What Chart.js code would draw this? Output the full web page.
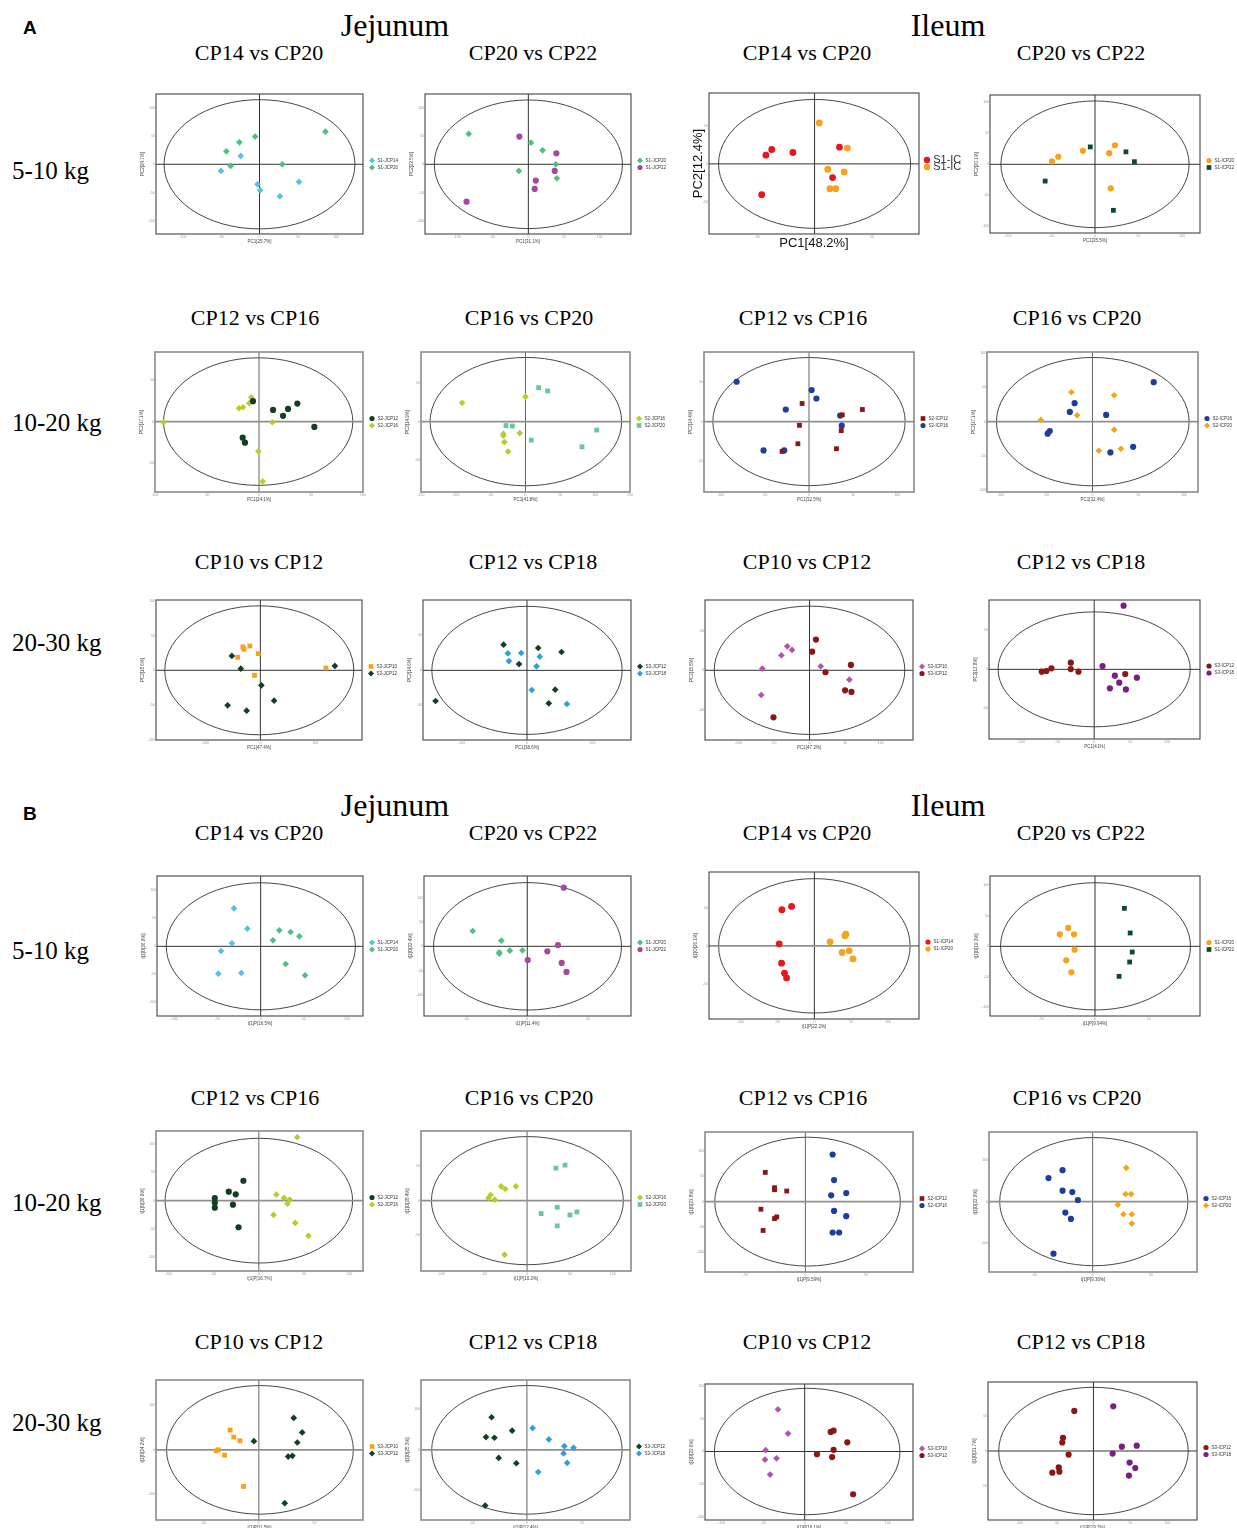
<!DOCTYPE html>
<html><head><meta charset="utf-8">
<script src="https://cdn.jsdelivr.net/npm/chart.js@4.4.0/dist/chart.umd.min.js"></script>
<style>
html,body{margin:0;padding:0;background:#fff;}
body{width:1237px;height:1528px;position:relative;overflow:hidden;font-family:"Liberation Serif","Times New Roman",serif;}
.t{position:absolute;white-space:nowrap;line-height:1;color:#000;}
canvas{position:absolute;}
</style></head><body>
<script>
// ---------------- DATA ----------------
const SECTIONS = ['A','B'];
const TISSUES = ['Jejunum','Ileum'];
const WEIGHTS = ['5-10 kg','10-20 kg','20-30 kg'];
const COMPARISONS = [
  ['CP14 vs CP20','CP20 vs CP22','CP14 vs CP20','CP20 vs CP22'],
  ['CP12 vs CP16','CP16 vs CP20','CP12 vs CP16','CP16 vs CP20'],
  ['CP10 vs CP12','CP12 vs CP18','CP10 vs CP12','CP12 vs CP18']
];
const PANELS = ['A11','A12','A13','A14','A21','A22','A23','A24','A31','A32','A33','A34',
                'B11','B12','B13','B14','B21','B22','B23','B24','B31','B32','B33','B34'];

const LEGEND_LABELS = [
  ['S1-JCP14','S1-JCP20'],['S1-JCP20','S1-JCP22'],['S1-IC','S1-IC'],['S1-ICP20','S1-ICP22'],
  ['S2-JCP12','S2-JCP16'],['S2-JCP16','S2-JCP20'],['S2-ICP12','S2-ICP16'],['S2-ICP16','S2-ICP20'],
  ['S3-JCP10','S3-JCP12'],['S3-JCP12','S3-JCP18'],['S3-ICP10','S3-ICP12'],['S3-ICP12','S3-ICP18'],
  ['S1-JCP14','S1-JCP20'],['S1-JCP20','S1-JCP22'],['S1-ICP14','S1-ICP20'],['S1-ICP20','S1-ICP22'],
  ['S2-JCP12','S2-JCP16'],['S2-JCP16','S2-JCP20'],['S2-ICP12','S2-ICP16'],['S2-ICP16','S2-ICP20'],
  ['S3-JCP10','S3-JCP12'],['S3-JCP12','S3-JCP18'],['S3-ICP10','S3-ICP12'],['S3-ICP12','S3-ICP18']
];
const X_TITLES = ['PC1[25.7%]','PC1[31.1%]','PC1[48.2%]','PC1[35.5%]','PC1[24.1%]','PC1[41.8%]','PC1[32.5%]','PC1[32.4%]',
  'PC1[47.4%]','PC1[38.6%]','PC1[47.3%]','PC1[41%]',
  't[1]P[16.5%]','t[1]P[11.4%]','t[1]P[22.2%]','t[1]P[9.94%]','t[1]P[16.7%]','t[1]P[10.2%]','t[1]P[9.59%]','t[1]P[9.36%]',
  't[1]P[11.5%]','t[1]P[12.4%]','t[1]P[16.1%]','t[1]P[19.7%]'];
const Y_TITLES = ['PC2[24.7%]','PC2[22.5%]','PC2[12.4%]','PC2[20.1%]','PC2[17.1%]','PC2[14.9%]','PC2[14.4%]','PC2[17.1%]',
  'PC2[18.6%]','PC2[14.6%]','PC2[15.8%]','PC2[12.8%]',
  't[1]O[26.9%]','t[1]O[22.4%]','t[1]O[26.1%]','t[1]O[19.3%]','t[1]O[26.9%]','t[1]O[28.4%]','t[1]O[23.8%]','t[1]O[22.9%]',
  't[1]O[24.2%]','t[1]O[25.3%]','t[1]O[22.6%]','t[1]O[21.7%]'];

const X_RANGES = [[-135,135],[-145,144],[-92,91],[-120.5,120.5],[-100,100],[-150,150],[-119,119],[-115,115],
  [-190,185],[-159,159],[-147,145.5],[-144.5,145.4],
  [-120,118.5],[-84.8,85.2],[-143,142],[-97.6,97.6],[-114,115.5],[-123.8,121.3],[-83.3,89.3],[-89.2,89.8],
  [-92.5,93.7],[-96.8,94.2],[-120,130.4],[-143,140.4]];
const Y_RANGES = [[-123,124],[-123,124],[-93,94],[-110.6,111.6],[-85,84],[-91,90],[-89,88],[-103,102],
  [-100.5,101.4],[-99.5,100.5],[-70.6,71.2],[-89.7,89.3],
  [-124.4,125.6],[-143.2,144.5],[-96.9,97.8],[-114.2,115.3],[-124.7,123.5],[-101,100],[-139.5,138],[-169,167.3],
  [-157.1,156.4],[-173.4,172.6],[-104,102.5],[-98.1,98.1]];
// confidence ellipse: [centre x, semi-axis x, semi-axis y]
const ELLIPSES = [[0,124.5,114],[0,132,113.5],[0,83.7,85.5],[0,108,102],[-0.8,91,77],[0.5,137.5,83],[0,109,81],[0.3,105,94],
  [-2,172,93],[0,145.5,91.5],[0,134,65],[0,132,74],
  [0.2,109.5,113.5],[0.2,77.2,131],[0,130,89],[0.5,88.3,104.3],[0,104,110.6],[0.4,112,92],[1.8,77,127.7],[1,81,154],
  [1,84,144],[0,87,159],[3,111.7,96],[0,128.5,90.6]];
const T5 = [-100,-50,0,50,100], T3 = [-50,0,50], T3H = [-100,0,100], T7 = [-150,-100,-50,0,50,100,150], T4 = [-40,0,40];
const X_TICKS = [T5,T5,T3,T5,T5,T7,T5,T5,T3H,T3H,T5,T5, T5,T3,T5,T3,T5,T5,T3,T3,T3,T3,T5,T5];
const Y_TICKS = [T5,T5,T3,T5,T3,T3,T3,T5,T5,T3,T4,T3, T5,T5,T3,T5,T5,T3,T5,T3H,T3H,T3H,T5,T3];

// scores [x, y]
const A11_g1 = [[-24.5,14.7],[-50.2,-11.8],[-2.6,-35.3],[0.9,-45.9],[51.5,-31.2],[26.6,-56.5]];
const A11_g2 = [[86.0,57.6],[-5.7,48.8],[-26.2,38.8],[-43.2,22.9],[-37.6,-2.9],[29.7,0]];
const A12_g1 = [[-83.7,53.5],[3.7,38.2],[20,24.7],[38.5,0],[-13.3,-11.8],[40,-24.7]];
const A12_g2 = [[-12.6,48.8],[39.3,19.4],[37,-11.8],[10.4,-28.8],[8.9,-43.5],[-86.7,-65.9]];
const A13_g1 = [[-42.4,11.6],[-37.3,19.1],[-18.9,15.1],[21.7,22.2],[15.7,-18.2],[-46.1,-40.9]];
const A13_g2 = [[4.1,54.2],[28.6,20.9],[11.5,-7.1],[25.8,-10.7],[13.4,-32.9],[18.4,-32.9]];
const A14_g1 = [[-49.4,4.8],[-42.2,12.2],[-13.9,21.7],[22.9,30.7],[16.3,18],[18.1,-38.6]];
const A14_g2 = [[-5.4,28],[35.5,20.1],[45.2,4.2],[-57.2,-27],[21.1,-74.1]];
const A21_g1 = [[-5.8,24.6],[13.5,14.1],[23.1,6.9],[27.9,15.3],[36.9,21.8],[53.2,-6.5],[-15.7,-19.4],[-13.5,-25.4]];
const A21_g2 = [[-92,-0.8],[-19.2,16.1],[-15.4,17.3],[-9.3,22.2],[-7.4,29],[12.8,-0.8],[-0.6,-35.9],[3.5,-72.2]];
const A22_g1 = [[-90.9,24.3],[0,32.2],[-8.3,-14.8],[-31.8,-15.7],[-31.8,-18.3],[-30.3,-26.5],[-25,-38.7]];
const A22_g2 = [[18.9,43.9],[31.8,39.6],[-28,-5.2],[-18.9,-5.7],[8.3,-23.9],[102.3,-10.9],[81.1,-32.6]];
const A23_g1 = [[-7.8,22.9],[60.5,15.3],[37.7,8.5],[-10.8,-4.7],[36.5,-11.4],[-12.6,-28],[31.1,-34.3],[-30.5,-37.7]];
const A23_g2 = [[-82,50.4],[3,39.8],[8.4,29.2],[-26.3,15.3],[35.3,7.6],[37.1,-5.1],[-51.5,-36.4],[-28.1,-36.4]];
const A24_g1 = [[66.7,57.8],[-19.5,27],[-24.7,14.2],[14.9,9.8],[-48.9,-17.6],[-46.6,-13.7],[44.3,-36.8],[19.5,-45.1]];
const A24_g2 = [[-23,43.1],[23.6,38.7],[-16.7,9.3],[-56.3,2.5],[23.6,-11.8],[6.9,-42.6],[31,-39.7]];
const A31_g1 = [[-31.7,33.7],[-29.8,30.3],[-19.2,35.1],[-3.8,24],[-41.3,18.8],[-10.6,-7.2],[119.2,3.4]];
const A31_g2 = [[-51.9,20.7],[-35.6,2.4],[135.6,6.3],[1.9,-21.6],[25,-43.8],[-59.6,-50.5],[-25,-58.2]];
const A32_g1 = [[-35.8,36.7],[17.1,31.9],[52.8,26.2],[-12.2,9],[-139.8,-43.8],[43.1,-27.6],[33.3,-47.1]];
const A32_g2 = [[-29.3,24.3],[-8.9,24.8],[19.5,19.5],[-27.6,13.3],[14.6,5.7],[7.3,-28.1],[61,-48.1]];
const A33_g1 = [[-31.3,24.3],[-24.6,20.6],[-39.6,15.2],[-66.4,1.7],[15.7,4.1],[56,-9.5],[-67.9,-25]];
const A33_g2 = [[9,31.1],[3.7,18.9],[58.2,5.4],[22.4,-2],[50,-20.3],[59,-21.9],[-50.7,-47.6]];
const A34_g1 = [[-72,-3],[-65.6,-2.1],[-58.7,1.3],[-32.1,8.6],[-32.1,0.4],[-21.6,-3],[42.7,-6]];
const A34_g2 = [[40.4,82],[11.5,4.3],[28.4,-8.2],[34.4,-17.2],[21.6,-24.5],[43.6,-25.8],[58.7,-10.7]];
const B11_g1 = [[-30.9,67.9],[-15.4,31.5],[-33.2,5.4],[-45.9,-8.3],[-49,-48.8],[-22.4,-47.6]];
const B11_g2 = [[14.3,10.7],[21.6,28.6],[34.7,25.6],[44.8,17.9],[29,-31.5],[51.4,-51.8]];
const B12_g1 = [[-44.8,31.5],[-21.3,11.6],[-23,-12.3],[-23,-15.1],[-14.3,-8.9],[-3.9,-8.2]];
const B12_g2 = [[30,120.5],[25.2,2.7],[16.5,-10.3],[0.4,-28.1],[28.3,-34.2],[32.2,-52.7]];
const B13_g1 = [[-44.1,47.8],[-30.9,52.2],[-47.7,2.7],[-44.5,-23],[-40.5,-36.3],[-37.7,-42.5]];
const B13_g2 = [[21.4,5.3],[41.4,13.3],[42.7,15.5],[37.7,-8.8],[47.3,-6.6],[52.3,-17.3]];
const B14_g1 = [[-24.9,30.1],[-32.7,19.7],[-19.5,19.7],[-19,-5.5],[-26.8,-23],[-22,-42.6]];
const B14_g2 = [[27.3,62.3],[32.7,21.9],[34.6,-9.3],[32.2,-25.7],[22.4,-49.2]];
const B21_g1 = [[-17.1,35.3],[-33.3,15.9],[-25.6,11.2],[-48.8,4.7],[-48.8,-3.5],[-48.8,-12.4],[-28.7,-7.1],[-22.5,-47.1]];
const B21_g2 = [[42.6,112.4],[19.4,10.6],[27.9,4.7],[34.1,1.8],[31.8,-5.3],[16.3,-25.3],[40.3,-39.4],[55,-62.4]];
const B22_g1 = [[-45.1,3.8],[-42.6,8.1],[-37.7,1.4],[-30.3,20.5],[-25.4,16.7],[-13.1,20.5],[-26.2,-77.6]];
const B22_g2 = [[33.6,46.7],[44.3,51],[35.2,-9.5],[16.4,-18.6],[50,-20.5],[58.2,-16.2],[35.2,-36.2]];
const B23_g1 = [[-33.3,57.9],[-25.6,27.6],[-25.6,23.7],[-15.5,21],[-36.9,-15.1],[-23.8,-30.3],[-25.6,-33.6],[-35.1,-57.2]];
const B23_g2 = [[22.6,93.4],[23.8,42.8],[33.9,17.1],[21.4,12.5],[23.8,-18.4],[33.9,-28.9],[22.6,-61.2],[28,-61.2]];
const B24_g1 = [[-25.9,75.7],[-38,56.6],[-25.9,26.3],[-17.5,23.1],[-12.7,4],[-23.5,-26.3],[-18.7,-41.4],[-33.7,-125.1]];
const B24_g2 = [[28.9,81.3],[28.3,18.3],[33.1,18.3],[21.7,-7.2],[26.5,-30.3],[33.7,-30.3],[33.7,-52.6]];
const B31_g1 = [[-25.8,44.4],[-22.6,28.6],[-17,20.3],[-36.5,0],[-38.4,-2.3],[-30.8,-12],[-13.8,-82]];
const B31_g2 = [[31.4,71.4],[39,39.1],[-4.4,19.5],[34.6,16.5],[30.2,-13.5],[26.4,-15],[23.3,-119.5]];
const B32_g1 = [[-32.3,80.5],[-13.5,47.3],[-37.4,31.5],[-29.7,29.9],[-25.8,-19.9],[-9.7,-33.2],[-38.1,-137.8]];
const B32_g2 = [[5.2,53.9],[20,25.7],[34.2,9.1],[42.6,5],[33.5,-9.1],[36.8,-32.4],[10.3,-54.8]];
const B33_g1 = [[-32.2,63.9],[-20,27.2],[-47,2],[-47.8,-12.4],[-33.9,-10.4],[-41.7,-35.1]];
const B33_g2 = [[31.3,29.7],[34.8,31.7],[51.3,13.9],[34.8,2.5],[14.8,-4],[33,-8.4],[58.3,-64.9]];
const B34_g1 = [[-26,57],[-41.3,18.7],[-42.3,12.1],[-33.7,-5.1],[-47.1,-23.4],[-46.2,-29.4],[-55.8,-30.8]];
const B34_g2 = [[26.9,63.6],[38.5,6.1],[58.7,7.5],[26,-3.7],[49,-16.4],[56.7,-24.3],[48.1,-35]];

const SCORES = {
  A11:[A11_g1,A11_g2],A12:[A12_g1,A12_g2],A13:[A13_g1,A13_g2],A14:[A14_g1,A14_g2],
  A21:[A21_g1,A21_g2],A22:[A22_g1,A22_g2],A23:[A23_g1,A23_g2],A24:[A24_g1,A24_g2],
  A31:[A31_g1,A31_g2],A32:[A32_g1,A32_g2],A33:[A33_g1,A33_g2],A34:[A34_g1,A34_g2],
  B11:[B11_g1,B11_g2],B12:[B12_g1,B12_g2],B13:[B13_g1,B13_g2],B14:[B14_g1,B14_g2],
  B21:[B21_g1,B21_g2],B22:[B22_g1,B22_g2],B23:[B23_g1,B23_g2],B24:[B24_g1,B24_g2],
  B31:[B31_g1,B31_g2],B32:[B32_g1,B32_g2],B33:[B33_g1,B33_g2],B34:[B34_g1,B34_g2]
};

// ---------------- STYLE / LAYOUT ----------------
const C = {cyan:'#56C3DC', green:'#52BF82', magenta:'#A8479F', red:'#E8161D', orange:'#F5A21C',
  dkgreen:'#0F4A2A', dkgreen2:'#123F22', ygreen:'#B3CF2C', mint:'#66C89C', dkred:'#8A1616',
  navy:'#1E3E99', ltblue:'#2E9FE0', pink:'#B452B0', purple:'#7A1E83'};
const PAIR_STYLE = {
  1:[[C.cyan,'rectRot'],[C.green,'rectRot']], 2:[[C.green,'rectRot'],[C.magenta,'circle']],
  3:[[C.red,'circle'],[C.orange,'circle']], 4:[[C.orange,'circle'],[C.dkgreen,'rect']],
  5:[[C.dkgreen2,'circle'],[C.ygreen,'rectRot']], 6:[[C.ygreen,'rectRot'],[C.mint,'rect']],
  7:[[C.dkred,'rect'],[C.navy,'circle']], 8:[[C.navy,'circle'],[C.orange,'rectRot']],
  9:[[C.orange,'rect'],[C.dkgreen2,'rectRot']], 10:[[C.dkgreen2,'rectRot'],[C.ltblue,'rectRot']],
  11:[[C.pink,'rectRot'],[C.dkred,'circle']], 12:[[C.dkred,'circle'],[C.purple,'circle']]
};
// frame [left, top, right, bottom] in page pixels
const FRAMES = [
  [156,94,363,234],[425,94,631,234],[709,93,919,234],[990,95,1200,233],
  [155,352,363,492],[421,352,630,492],[704,352,914,492],[987,352,1198,492],
  [156,600,362,740],[423,600,631,740],[705,600,913,740],[989,600,1200,739],
  [157,876,363,1016],[424,876,631,1016],[709,872,919,1019],[990,876,1200,1016],
  [156,1131,363,1271],[421,1131,631,1271],[705,1132,913,1272],[989,1132,1197,1272],
  [156,1380,363,1520],[421,1380,630,1520],[705,1384,913,1520],[988,1382,1197,1520]
];

// ---------------- TEXT ----------------
function addText(txt, x, y, size, extra){
  const d = document.createElement('div');
  d.className = 't';
  d.textContent = txt;
  d.style.fontSize = size + 'px';
  d.style.left = x + 'px';
  d.style.top = (y - size/2) + 'px';
  if (extra && extra.center) d.style.transform = 'translateX(-50%)';
  if (extra && extra.font) d.style.fontFamily = extra.font;
  if (extra && extra.bold) d.style.fontWeight = 'bold';
  document.body.appendChild(d);
}
const SECTION_Y = [0, 780];
const LETTER_Y = [27, 813];
const COL_X = [[259,533,807,1081],[255,529,803,1077],[259,533,807,1081]];
const SUB_Y = [53,318,562];
const ROW_Y = [170,422,642];
SECTIONS.forEach((s,si)=>{
  const oy = SECTION_Y[si];
  addText(s, 23, LETTER_Y[si], 19, {font:'"Liberation Sans",Arial,sans-serif', bold:true});
  addText(TISSUES[0], 395, 25+oy, 32, {center:true});
  addText(TISSUES[1], 948, 25+oy, 32, {center:true});
  for (let r=0;r<3;r++){
    addText(WEIGHTS[r], 12, ROW_Y[r]+oy, 25);
    for (let c=0;c<4;c++) addText(COMPARISONS[r][c], COL_X[r][c], SUB_Y[r]+oy, 22, {center:true});
  }
});

// ---------------- CHARTS ----------------
function drawMarker(ctx, style, x, y, r){
  ctx.beginPath();
  if (style==='circle') ctx.arc(x,y,r,0,Math.PI*2);
  else if (style==='rect') ctx.rect(x-r*0.9,y-r*0.9,r*1.8,r*1.8);
  else { ctx.moveTo(x,y-r*1.15); ctx.lineTo(x+r*1.15,y); ctx.lineTo(x,y+r*1.15); ctx.lineTo(x-r*1.15,y); ctx.closePath(); }
  ctx.fill();
}
const pcaPlugin = {
  id:'pca',
  beforeDatasetsDraw(chart){
    const o = chart.options.plugins.pca, ctx = chart.ctx, a = chart.chartArea;
    const xs = chart.scales.x, ys = chart.scales.y;
    ctx.save();
    const cx = xs.getPixelForValue(o.ell[0]), cy = ys.getPixelForValue(0);
    const rx = Math.abs(xs.getPixelForValue(o.ell[0]+o.ell[1]) - cx);
    const ry = Math.abs(ys.getPixelForValue(o.ell[2]) - cy);
    ctx.beginPath(); ctx.ellipse(cx,cy,rx,ry,0,0,Math.PI*2);
    ctx.strokeStyle = '#333'; ctx.lineWidth = 0.9; ctx.stroke();
    const x0 = xs.getPixelForValue(0), y0 = ys.getPixelForValue(0);
    ctx.beginPath(); ctx.moveTo(x0,a.top); ctx.lineTo(x0,a.bottom);
    ctx.strokeStyle = o.vColor; ctx.lineWidth = o.vW; ctx.stroke();
    ctx.beginPath(); ctx.moveTo(a.left,y0); ctx.lineTo(a.right,y0);
    ctx.strokeStyle = o.hColor; ctx.lineWidth = o.hW; ctx.stroke();
    ctx.restore();
  },
  afterDraw(chart){
    const o = chart.options.plugins.pca, ctx = chart.ctx, a = chart.chartArea;
    ctx.save();
    ctx.strokeStyle = o.fColor; ctx.lineWidth = o.fW;
    ctx.strokeRect(a.left, a.top, a.right-a.left, a.bottom-a.top);
    const midY = (a.top + a.bottom)/2;
    chart.data.datasets.forEach((ds,i)=>{
      const y = midY + (i - 0.5) * o.legGap;
      ctx.fillStyle = ds.backgroundColor;
      drawMarker(ctx, ds.pointStyle, a.right + o.legDx, y, o.legR);
      ctx.fillStyle = '#333';
      ctx.font = o.legFont;
      ctx.textBaseline = 'middle';
      ctx.fillText(ds.label, a.right + o.legDx + o.legR + 3, y);
    });
    ctx.restore();
  }
};

PANELS.forEach((key, i)=>{
  const [L,T,R,B] = FRAMES[i];
  const big = key === 'A13';
  const sec = key[0], row = +key[1], col = +key[2];
  const pairIdx = (row-1)*4 + col;
  const W = big ? 18 : 16;
  const H = big ? 17 : 10;
  const PAD_R = 80, PAD_T = 4;
  const cv = document.createElement('canvas');
  cv.width = W + (R-L) + PAD_R;
  cv.height = PAD_T + (B-T) + H;
  cv.style.left = (L - W) + 'px';
  cv.style.top = (T - PAD_T) + 'px';
  document.body.appendChild(cv);

  const grayRow = (row===2) || (sec==='B' && row===3 && col<=2);
  const line = {
    fColor: grayRow ? '#8a8a8a' : '#444', fW: grayRow ? 1.6 : 1.1,
    hColor: grayRow || key==='B13' ? '#8f8f8f' : '#333', hW: grayRow || key==='B13' ? 1.8 : 1,
    vColor: grayRow ? '#666' : '#333', vW: 1
  };
  const styles = PAIR_STYLE[pairIdx];
  const rad = (key==='A13'||key==='B13') ? 3.4 : 3.1;
  const datasets = SCORES[key].map((pts, g)=>({
    label: LEGEND_LABELS[i][g],
    data: pts.map(p=>({x:p[0], y:p[1]})),
    backgroundColor: styles[g][0],
    borderColor: styles[g][0],
    borderWidth: 0,
    pointStyle: styles[g][1],
    pointRadius: styles[g][1]==='rectRot' ? rad*1.08 : (styles[g][1]==='rect' ? rad*1.1 : rad),
    pointBorderWidth: 0
  }));
  const tickFont = {size:3.5, family:'"Liberation Sans",Arial,sans-serif'};
  const titleFont = big ? {size:13, family:'"Liberation Sans",Arial,sans-serif'} : {size:4.5, family:'"Liberation Sans",Arial,sans-serif'};
  const xt = X_TICKS[i], yt = Y_TICKS[i];
  new Chart(cv, {
    type:'scatter',
    data:{datasets},
    plugins:[pcaPlugin],
    options:{
      responsive:false, animation:false, devicePixelRatio:1, events:[],
      layout:{padding:{left:0, top:PAD_T, right:PAD_R, bottom:0}},
      plugins:{
        legend:{display:false}, tooltip:{enabled:false},
        pca:Object.assign({ell:ELLIPSES[i], legDx: big?8:9, legR: big?3.2:2.6, legGap: big?7:7,
          legFont: big ? '11px "Liberation Sans",Arial,sans-serif' : '4.5px "Liberation Sans",Arial,sans-serif'}, line)
      },
      scales:{
        x:{type:'linear', position:'bottom', min:X_RANGES[i][0], max:X_RANGES[i][1],
          afterBuildTicks:(s)=>{ s.ticks = xt.map(v=>({value:v})); },
          afterFit:(s)=>{ s.height = H; },
          grid:{display:false, drawTicks:false}, border:{display:false},
          ticks:{font:tickFont, color:'#999', padding:1, maxRotation:0, autoSkip:false},
          title:{display:true, text:X_TITLES[i], font:titleFont, color: big?'#111':'#444', padding:0}
        },
        y:{type:'linear', position:'left', min:Y_RANGES[i][0], max:Y_RANGES[i][1],
          afterBuildTicks:(s)=>{ s.ticks = yt.map(v=>({value:v})); },
          afterFit:(s)=>{ s.width = W; },
          grid:{display:false, drawTicks:false}, border:{display:false},
          ticks:{font:tickFont, color:'#999', padding:1, autoSkip:false},
          title:{display:true, text:Y_TITLES[i], font:titleFont, color: big?'#111':'#444', padding:0}
        }
      }
    }
  });
});
</script>
</body></html>
